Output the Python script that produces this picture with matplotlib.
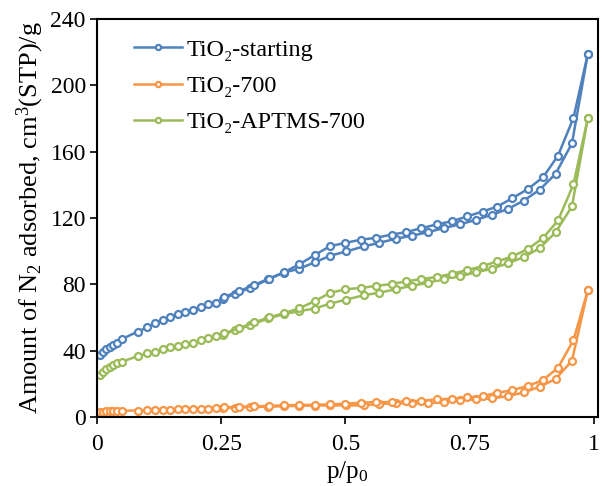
import matplotlib
matplotlib.use("Agg")
import matplotlib.pyplot as plt

plt.rcParams['font.family'] = ['Liberation Serif', 'DejaVu Serif']
plt.rcParams['mathtext.fontset'] = 'custom'
plt.rcParams['mathtext.rm'] = 'Liberation Serif'
plt.rcParams['mathtext.it'] = 'Liberation Serif:italic'
plt.rcParams['mathtext.default'] = 'regular'

labels = ['TiO₂-starting', 'TiO₂-700', 'TiO₂-APTMS-700']
colors = ['#4F81BD', '#F79646', '#9BBB59']

# adsorption branch
p_ads = [0.006, 0.013, 0.019, 0.026, 0.033, 0.040, 0.050, 0.082, 0.101, 0.117,
         0.133, 0.147, 0.164, 0.178, 0.194, 0.209, 0.224, 0.239, 0.253, 0.278,
         0.309, 0.345, 0.376, 0.407, 0.438, 0.470, 0.502, 0.537, 0.568, 0.602,
         0.634, 0.667, 0.698, 0.730, 0.763, 0.795, 0.828, 0.859, 0.891, 0.923,
         0.956, 0.988]
start_ads = [37.3, 39.3, 40.9, 42.3, 43.3, 44.7, 46.9, 51.5, 54.0, 56.7,
             58.3, 60.3, 62.0, 63.4, 64.8, 66.4, 68.4, 69.0, 71.0, 74.4,
             77.8, 83.0, 87.0, 89.4, 93.2, 97.3, 99.8, 102.9, 105.0, 107.5,
             109.3, 111.5, 113.9, 116.1, 118.9, 121.9, 125.5, 130.5, 137.0, 146.6,
             165.0, 219.0]
t700_ads = [3.2, 3.3, 3.4, 3.5, 3.6, 3.7, 3.8, 3.9, 4.2, 4.3,
            4.4, 4.5, 4.6, 4.7, 4.8, 5.0, 5.1, 5.3, 5.4, 5.7, 5.9,
            6.2, 6.5, 6.7, 6.9, 7.0, 7.0, 7.0, 7.8, 8.2,
            8.2, 8.4, 9.0, 10.2, 10.6, 11.2, 12.6, 14.8, 18.2, 22.9,
            33.9, 76.4]
aptms_ads = [25.3, 27.3, 28.7, 30.3, 31.3, 32.3, 33.3, 36.7, 38.3, 38.9,
             40.7, 41.9, 42.9, 43.9, 44.9, 46.3, 47.9, 48.6, 49.5, 52.3,
             55.3, 59.5, 62.0, 63.8, 65.4, 68.4, 70.8, 73.4, 75.0, 77.0,
             79.2, 80.8, 83.4, 84.8, 87.2, 89.4, 92.8, 96.4, 101.8, 111.3,
             127.0, 180.3]

# desorption branch
p_des = [0.988, 0.959, 0.928, 0.898, 0.868, 0.836, 0.806, 0.776, 0.745, 0.715,
         0.684, 0.653, 0.623, 0.593, 0.561, 0.531, 0.500, 0.469, 0.438, 0.407,
         0.376, 0.346, 0.316, 0.286, 0.256]
start_des = [219.0, 180.3, 157.6, 144.6, 137.6, 131.9, 126.9, 123.9, 120.9, 118.1,
             116.1, 113.9, 111.5, 110.0, 108.0, 106.9, 105.0, 103.0, 97.6, 92.0,
             87.2, 83.4, 79.6, 75.8, 72.4]
t700_des = [76.4, 46.3, 29.7, 22.3, 18.8, 16.2, 14.6, 12.6, 11.8, 11.0,
            10.6, 9.8, 9.4, 9.0, 9.0, 8.6, 8.0, 7.6, 7.4, 7.2,
            7.0, 6.7, 6.4, 6.2, 5.8]
aptms_des = [180.3, 140.2, 118.5, 108.0, 101.4, 96.8, 93.9, 90.9, 88.6, 86.4,
             84.4, 83.2, 81.8, 80.2, 79.0, 77.8, 77.0, 74.8, 69.8, 65.5,
             62.5, 60.0, 57.0, 53.5, 50.5]

fig = plt.figure(figsize=(6.02, 4.86), dpi=100)
ax = fig.add_axes([0.161, 0.142, 0.832, 0.819])

series = [(start_ads, start_des), (t700_ads, t700_des), (aptms_ads, aptms_des)]
for (ads, des), lab, c in zip(series, labels, colors):
    ax.plot(p_ads, ads, color=c, lw=1.8, marker='o', ms=5, mfc='white',
            mec=c, mew=1.6, label=lab)
    ax.plot(p_des, des, color=c, lw=1.8, marker='o', ms=5, mfc='white',
            mec=c, mew=1.6)

ax.set_xlim(0, 1.008)
ax.set_ylim(0, 240)
ax.set_xticks([0, 0.25, 0.5, 0.75, 1])
ax.set_xticklabels(['0', '0.25', '0.5', '0.75', '1'])
ax.set_yticks(range(0, 241, 40))
ax.tick_params(labelsize=17, direction='out', length=5, width=1.2)
ax.tick_params(axis='x', pad=7)
ax.tick_params(axis='y', pad=3)
for s in ax.spines.values():
    s.set_linewidth(1.5)

ax.set_xlabel('p/p$_0$', fontsize=18, labelpad=3)
ax.set_ylabel('Amount of N$_2$ adsorbed, cm$^3$(STP)/g', fontsize=19, labelpad=3)

leg = ax.legend(loc='upper left', bbox_to_anchor=(0.03, 1.005), frameon=False,
                fontsize=17.4, handlelength=2.0, markerscale=0.75,
                labelspacing=0.6, handletextpad=0.2)

fig.savefig('out.png', dpi=100)
